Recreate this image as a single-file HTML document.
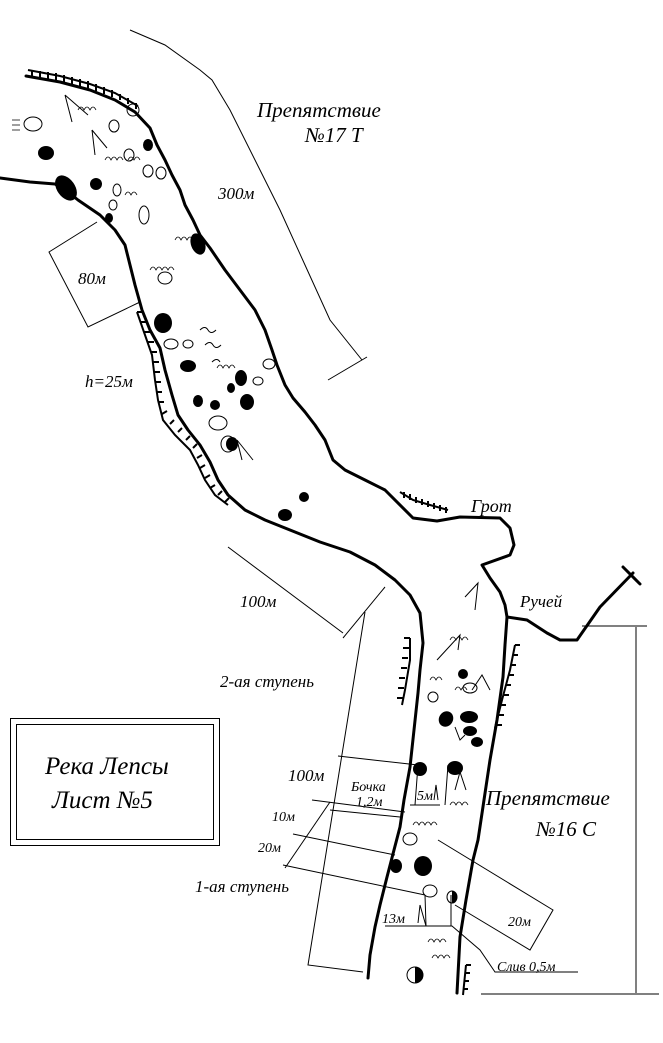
<!DOCTYPE html>
<html><head><meta charset="utf-8"><style>
html,body{margin:0;padding:0;background:#fff;width:663px;height:1043px;overflow:hidden}
svg text{font-family:"Liberation Serif",serif;font-style:italic;fill:#000}
</style></head><body>
<svg width="663" height="1043" viewBox="0 0 663 1043" xmlns="http://www.w3.org/2000/svg">
<g fill="none" stroke="#000" stroke-width="3" stroke-linejoin="round" stroke-linecap="round">
<path d="M0,178 L30,182 L55,184 L68,192 L78,200 L100,215 L115,230 L125,245 L130,265 L135,285 L142,310 L150,330 L160,348 L165,370 L172,395 L178,415 L188,430 L200,445 L210,462 L218,480 L228,495 L245,510 L265,520 L290,530 L320,542 L350,552 L375,565 L395,580 L410,595 L420,613 L423,643 L420,670 L418,693 L414,730 L410,767 L404,800 L400,827 L394,850 L387,877 L380,905 L375,927 L370,955 L368,978"/>
<path d="M26,76 L60,82 L90,90 L115,100 L135,112 L150,128 L157,145 L165,160 L172,175 L180,190 L185,205 L193,220 L200,235 L210,248 L225,270 L240,290 L255,310 L265,330 L272,350 L277,365 L285,385 L293,398 L305,412 L315,425 L325,440 L333,460 L345,470 L365,480 L385,490 L413,518 L437,521 L460,517 L500,518 L510,528 L514,545 L510,555 L482,565 L490,578 L500,592 L505,605 L507,617 L505,645 L503,677 L497,720 L490,760 L484,800 L478,840 L473,860 L466,900 L460,937 L457,993"/>
<path d="M507,617 L527,620 L547,633 L560,640 L577,640 L600,607 L633,573"/>
<path d="M623,567 L640,584"/>
</g>
<g fill="none" stroke="#000" stroke-width="2">
<path d="M28,70 L60,76 L90,84 L115,93 L138,106"/>
<path d="M32,70v7M40,71v7M48,72v7M56,73v7M64,75v7M72,77v7M80,79v7M88,81v7M96,84v7M104,87v7M112,90v7M120,94v6M128,98v6M136,103v6"/>
<path d="M137,312 L145,335 L152,355 L155,380 L158,400 L163,420 L175,435 L190,450 L198,465 L205,480 L215,495 L228,505"/>
<path d="M137,312h6M141,322h6M144,332h6M148,342h6M151,352h6M153,362h6M154,372h6M155,382h6M156,392h6M158,402h6M162,414l5,-3M170,424l4,-4M178,432l4,-4M186,440l4,-4M193,448l4,-4M197,458l5,-3M200,468l5,-3M205,478l5,-3M210,488l5,-3M218,495l4,-4M225,502l4,-4"/>
<path d="M400,492 L413,500 L430,505 L448,510"/>
<path d="M404,492v6M410,494v6M416,497v6M422,499v6M428,501v6M434,503v6M440,505v6M446,507v6"/>
<path d="M410,638 L410,660 L405,690 L402,705"/>
<path d="M410,638h-6M409,648h-6M408,658h-6M407,668h-6M405,678h-6M404,688h-6M403,698h-6"/>
<path d="M515,645 L510,670 L502,700 L495,728"/>
<path d="M515,645h5M513,655h5M511,665h5M509,675h5M506,685h5M504,695h5M501,705h5M499,715h5M497,725h5"/>
<path d="M466,965 L463,995"/>
<path d="M466,965h5M465,973h5M464,981h5M463,989h5"/>
</g>
<g fill="none" stroke="#000" stroke-width="1">
<path d="M130,30 L165,45 L200,70 L212,80 L230,110 L260,170 L280,210 L305,265 L330,320 L362,360"/>
<path d="M328,380 L367,357"/>
<path d="M97,222 L49,252 L88,327 L140,302"/>
<path d="M228,547 L343,633"/>
<path d="M343,638 L385,587"/>
<path d="M365,612 L308,965 L363,972"/>
<path d="M338,756 L418,765"/>
<path d="M312,800 L405,812"/>
<path d="M330,802 L285,868"/>
<path d="M330,810 L400,817"/>
<path d="M293,834 L395,855"/>
<path d="M283,865 L425,895"/>
<path d="M418,765 L415,805"/>
<path d="M448,765 L445,805"/>
<path d="M410,805 L440,805"/>
<path d="M438,840 L553,910 L530,950 L455,905"/>
<path d="M385,926 L452,926 L480,950 L495,972 L578,972"/>
<path d="M425,895 L426,926M451,895 L451,926"/>
<path d="M582,626 L647,626M636,627 L636,993M481,994 L659,994"/>
<path d="M65,95 L72,122 M65,95 L88,115"/>
<path d="M92,130 L95,155 M92,130 L107,148"/>
<path d="M237,440 L253,460 M237,440 L242,460"/>
<path d="M465,597 L478,583 L475,610"/>
<path d="M437,660 L460,635 L458,650"/>
<path d="M472,690 L482,675 L490,690"/>
<path d="M455,727 L460,740 L465,735"/>
<path d="M455,790 L460,772 L466,790"/>
<path d="M434,800 L436,785 L438,800"/>
<path d="M418,923 L420,905 L426,926"/>
<path d="M200,330 q5,-5 8,0 q3,5 8,0M205,345 q5,-5 8,0 q3,5 8,0M212,362 q5,-5 8,0"/>
</g>
<g fill="none" stroke="#000" stroke-width="0.8">
<path d="M12,120 h8M12,125 h8M12,130 h8"/>
<path d="M78,110 q3,-6 6,0 q3,-6 6,0 q3,-6 6,0"/>
<path d="M105,160 q3,-6 6,0 q3,-6 6,0 q3,-6 6,0"/>
<path d="M128,160 q3,-6 6,0 q3,-6 6,0"/>
<path d="M125,195 q3,-6 6,0 q3,-6 6,0"/>
<path d="M175,240 q3,-6 6,0 q3,-6 6,0 q3,-6 6,0"/>
<path d="M150,270 q3,-6 6,0 q3,-6 6,0 q3,-6 6,0 q3,-6 6,0"/>
<path d="M217,368 q3,-6 6,0 q3,-6 6,0 q3,-6 6,0"/>
<path d="M450,640 q3,-6 6,0 q3,-6 6,0 q3,-6 6,0"/>
<path d="M430,680 q3,-6 6,0 q3,-6 6,0"/>
<path d="M455,690 q3,-6 6,0 q3,-6 6,0"/>
<path d="M450,805 q3,-6 6,0 q3,-6 6,0 q3,-6 6,0"/>
<path d="M413,825 q3,-6 6,0 q3,-6 6,0 q3,-6 6,0 q3,-6 6,0"/>
<path d="M428,942 q3,-6 6,0 q3,-6 6,0 q3,-6 6,0"/>
<path d="M432,958 q3,-6 6,0 q3,-6 6,0 q3,-6 6,0"/>
</g>
<g fill="#000">
<ellipse cx="46" cy="153" rx="8" ry="7"/>
<ellipse cx="66" cy="188" rx="9" ry="14" transform="rotate(-35 66 188)"/>
<ellipse cx="96" cy="184" rx="6" ry="6"/>
<ellipse cx="148" cy="145" rx="5" ry="6"/>
<ellipse cx="109" cy="218" rx="4" ry="5"/>
<ellipse cx="198" cy="244" rx="7" ry="11" transform="rotate(-20 198 244)"/>
<ellipse cx="163" cy="323" rx="9" ry="10"/>
<ellipse cx="188" cy="366" rx="8" ry="6"/>
<ellipse cx="241" cy="378" rx="6" ry="8"/>
<ellipse cx="231" cy="388" rx="4" ry="5"/>
<ellipse cx="198" cy="401" rx="5" ry="6"/>
<ellipse cx="215" cy="405" rx="5" ry="5"/>
<ellipse cx="247" cy="402" rx="7" ry="8"/>
<ellipse cx="232" cy="444" rx="6" ry="7"/>
<ellipse cx="304" cy="497" rx="5" ry="5"/>
<ellipse cx="285" cy="515" rx="7" ry="6"/>
<ellipse cx="463" cy="674" rx="5" ry="5"/>
<ellipse cx="446" cy="719" rx="7" ry="8" transform="rotate(30 446 719)"/>
<ellipse cx="469" cy="717" rx="9" ry="6"/>
<ellipse cx="470" cy="731" rx="7" ry="5"/>
<ellipse cx="477" cy="742" rx="6" ry="5"/>
<ellipse cx="420" cy="769" rx="7" ry="7"/>
<ellipse cx="455" cy="768" rx="8" ry="7"/>
<ellipse cx="396" cy="866" rx="6" ry="7"/>
<ellipse cx="423" cy="866" rx="9" ry="10"/>
</g>
<g fill="none" stroke="#000" stroke-width="1">
<ellipse cx="33" cy="124" rx="9" ry="7"/>
<ellipse cx="114" cy="126" rx="5" ry="6"/>
<ellipse cx="133" cy="110" rx="6" ry="6"/>
<ellipse cx="129" cy="155" rx="5" ry="6"/>
<ellipse cx="161" cy="173" rx="5" ry="6"/>
<ellipse cx="148" cy="171" rx="5" ry="6"/>
<ellipse cx="117" cy="190" rx="4" ry="6"/>
<ellipse cx="113" cy="205" rx="4" ry="5"/>
<ellipse cx="144" cy="215" rx="5" ry="9"/>
<ellipse cx="165" cy="278" rx="7" ry="6"/>
<ellipse cx="188" cy="344" rx="5" ry="4"/>
<ellipse cx="171" cy="344" rx="7" ry="5"/>
<ellipse cx="269" cy="364" rx="6" ry="5"/>
<ellipse cx="258" cy="381" rx="5" ry="4"/>
<ellipse cx="218" cy="423" rx="9" ry="7"/>
<ellipse cx="228" cy="444" rx="7" ry="8"/>
<ellipse cx="433" cy="697" rx="5" ry="5"/>
<ellipse cx="470" cy="688" rx="7" ry="5"/>
<ellipse cx="410" cy="839" rx="7" ry="6"/>
<ellipse cx="430" cy="891" rx="7" ry="6"/>
<ellipse cx="452" cy="897" rx="5" ry="6"/>
<ellipse cx="415" cy="975" rx="8" ry="8"/>
</g>
<path d="M452,891 a5,6 0 0 1 0,12 z" fill="#000"/>
<path d="M415,967 a8,8 0 0 1 0,16 z" fill="#000"/>
<rect x="10.5" y="718.5" width="209" height="127" fill="none" stroke="#000"/>
<rect x="16.5" y="724.5" width="197" height="115" fill="none" stroke="#000"/>
<text x="45" y="774" font-size="25">Река Лепсы</text>
<text x="52" y="808" font-size="25">Лист №5</text>
<text x="257" y="117" font-size="21">Препятствие</text>
<text x="305" y="142" font-size="21">№17 Т</text>
<text x="218" y="199" font-size="17">300м</text>
<text x="78" y="284" font-size="17">80м</text>
<text x="85" y="387" font-size="17">h=25м</text>
<text x="471" y="512" font-size="18">Грот</text>
<text x="240" y="607" font-size="17">100м</text>
<text x="520" y="607" font-size="17">Ручей</text>
<text x="220" y="687" font-size="17">2-ая ступень</text>
<text x="288" y="781" font-size="17">100м</text>
<text x="351" y="791" font-size="14">Бочка</text>
<text x="356" y="806" font-size="14">1,2м</text>
<text x="417" y="800" font-size="14">5м</text>
<text x="486" y="805" font-size="21">Препятствие</text>
<text x="536" y="836" font-size="21">№16 С</text>
<text x="272" y="821" font-size="14">10м</text>
<text x="258" y="852" font-size="14">20м</text>
<text x="195" y="892" font-size="17">1-ая ступень</text>
<text x="382" y="923" font-size="14">13м</text>
<text x="508" y="926" font-size="14">20м</text>
<text x="497" y="971" font-size="14">Слив 0,5м</text>
</svg>
</body></html>
